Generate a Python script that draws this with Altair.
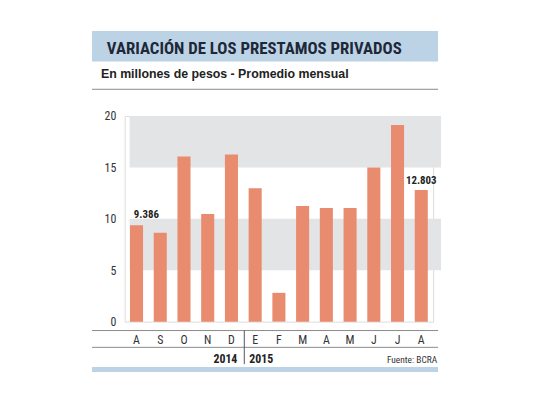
import altair as alt
import pandas as pd

months = ["A", "S", "O", "N", "D", "E", "F", "M", "A", "M", "J", "J", "A"]
years = ["2014"] * 5 + ["2015"] * 8
values = [9.386, 8.65, 16.06, 10.48, 16.25, 12.98, 2.8, 11.25, 11.06, 11.06, 15.0, 19.13, 12.803]
value_labels = ["9.386", "", "", "", "", "", "", "", "", "", "", "", "12.803"]
band_lo = [5, 15]
band_hi = [10, 20]

title = "VARIACIÓN DE LOS PRESTAMOS PRIVADOS"
subtitle = "En millones de pesos - Promedio mensual"
source = "Fuente: BCRA"

FONT = "Liberation Sans Narrow, Roboto Condensed, Arial Narrow, Liberation Sans, sans-serif"
WIDE = "Liberation Sans, Arial, sans-serif"
BAR = "#e98b6e"
GRAY = "#e3e4e6"
BLUE = "#bcd3e6"
INK = "#222222"

keys = [f"{m}{i:02d}" for i, m in enumerate(months)]
df = pd.DataFrame({"key": keys, "month": months, "year": years, "value": values, "lab": value_labels})
bands = pd.DataFrame({"lo": band_lo, "hi": band_hi})

W, H = 312, 208

xaxis = alt.Axis(title=None, labelExpr="substring(datum.label, 0, 1)", ticks=False, domain=False,
                 grid=False, labelAngle=0, labelPadding=13, labelFont=FONT, labelFontSize=12,
                 labelColor="#333333")
xscale = alt.Scale(paddingInner=0.45, paddingOuter=0.225)
yaxis = alt.Axis(title=None, values=[0, 5, 10, 15, 20], grid=False, ticks=False, domain=False,
                 labelPadding=9, labelFont=FONT, labelFontSize=12, labelColor="#333333")
yscale = alt.Scale(domain=[0, 20], nice=False)

xenc = alt.X("key:N", sort=keys, scale=xscale, axis=xaxis)
yenc = alt.Y("value:Q", scale=yscale, axis=yaxis)

gray = alt.Chart(bands).mark_rect(color=GRAY).encode(
    x=alt.value(5), x2=alt.value(320),
    y=alt.Y("lo:Q", scale=yscale, axis=yaxis), y2="hi:Q")

bars = alt.Chart(df).mark_bar(color=BAR).encode(x=xenc, y=yenc)

lab_first = alt.Chart(df).transform_filter("datum.lab != '' && datum.value < 10").mark_text(
    font=FONT, fontSize=11, fontWeight="bold", color=INK, align="center", baseline="bottom", dx=10, dy=-5
).encode(x=xenc, y=yenc, text="lab:N")

lab_last = alt.Chart(df).transform_filter("datum.lab != '' && datum.value > 10").mark_text(
    font=FONT, fontSize=11, fontWeight="bold", color=INK, align="center", baseline="bottom", dy=-4
).encode(x=xenc, y=yenc, text="lab:N")

one = pd.DataFrame({"t": [title]})

def rect(x1, x2, y1, y2, color):
    return alt.Chart(one).mark_rect(color=color).encode(
        x=alt.value(x1), x2=alt.value(x2), y=alt.value(y1), y2=alt.value(y2))

def hrule(y, x1=-33, x2=317, color="#8a8a8a", w=1):
    return alt.Chart(one).mark_rule(color=color, strokeWidth=w).encode(
        x=alt.value(x1), x2=alt.value(x2), y=alt.value(y))

def text(s, x, y, size, weight="normal", align="left", color=INK, font=FONT):
    return alt.Chart(pd.DataFrame({"t": [s]})).mark_text(
        font=font, fontSize=size, fontWeight=weight, align=align, baseline="alphabetic", color=color
    ).encode(x=alt.value(x), y=alt.value(y), text="t:N")

title_bg = rect(-33, 317, -86, -55, BLUE)
title_t = text(title, -18, -63, 17, "bold", color="#1e2838")
sub_t = text(subtitle, -24, -38, 12.5, "bold", font=WIDE)
rule1 = hrule(-27)
rule2 = hrule(217)
rule3 = hrule(234)
vsep = alt.Chart(one).mark_rule(color="#555555", strokeWidth=1).encode(
    x=alt.value(121), y=alt.value(217), y2=alt.value(251))
y2014 = text("2014", 114, 250, 12, "bold", align="right")
y2015 = text("2015", 126, 250, 12, "bold")
src = text(source, 316, 250, 9.5, align="right", color="#333333")
bottom = rect(-33, 317, 254, 259, BLUE)

chart = alt.layer(
    title_bg, title_t, sub_t, rule1, gray, bars, lab_first, lab_last,
    rule2, rule3, vsep, y2014, y2015, src, bottom
).properties(
    width=W, height=H,
    autosize=alt.AutoSizeParams(type="none"),
    padding={"left": 118, "top": 107, "right": 100, "bottom": 74},
).configure_view(stroke=None).configure(background="white")

chart.save("out.html", embed_options={"renderer": "svg", "actions": False})
